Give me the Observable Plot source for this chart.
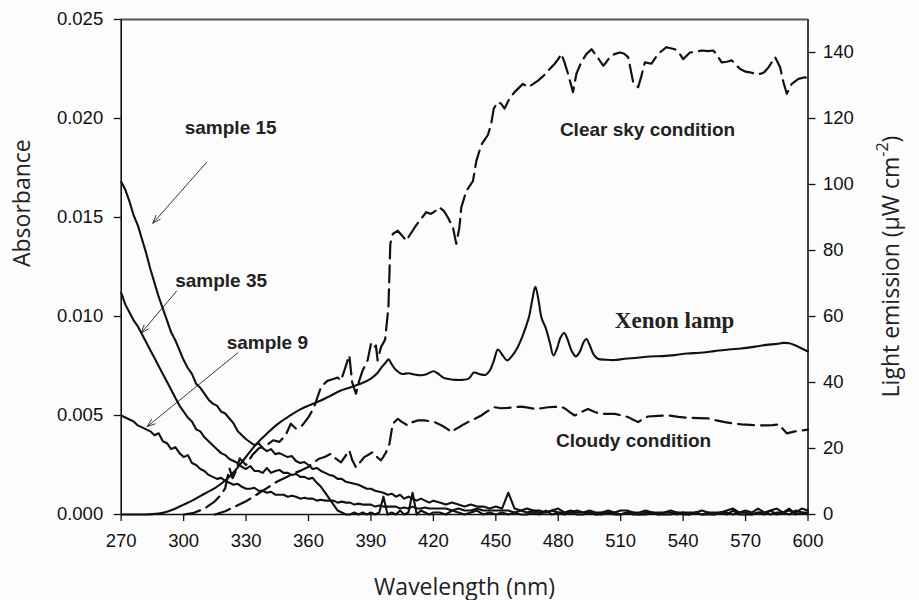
<!DOCTYPE html>
<html><head><meta charset="utf-8">
<script src="https://cdn.jsdelivr.net/npm/d3@7"></script>
<script src="https://cdn.jsdelivr.net/npm/@observablehq/plot@0.6"></script>
<style>
html,body{margin:0;padding:0;background:#fcfcfc;}
#chart svg{display:block;}
</style>
</head><body><div id="chart"></div>
<script>
// ---------- tick labels ----------
const wavelengthTicks = [270, 300, 330, 360, 390, 420, 450, 480, 510, 540, 570, 600];
const absorbanceTicks = [0, 0.005, 0.010, 0.015, 0.020, 0.025];
const emissionTicks = [0, 20, 40, 60, 80, 100, 120, 140];
const absorbanceMax = 0.025;
const emissionMax = 150;

// ---------- absorbance spectra (sampled every 2 nm to 420, then every 3 nm) ----------
const absWl = [...d3.range(270, 421, 2), ...d3.range(423, 601, 3)];
const sample15 = [
  .0168,.0164,.0158,.0151,.0146,.0139,.0132,.0124,.0117,.0110,
  .0104,.0098,.0092,.0088,.0083,.0078,.0074,.0071,.0066,.0064,
  .0061,.0058,.0056,.0055,.0052,.0051,.00485,.0046,.0042,.0040,
  .0038,.00365,.0035,.0036,.00335,.0032,.0033,.00305,.0031,.0030,
  .0029,.00295,.0027,.0026,.00265,.0025,.0023,.00235,.0022,.0021,
  .0020,.00195,.0018,.0018,.00165,.0016,.00155,.0015,.0014,.0013,
  .0013,.0012,.00115,.0011,.0010,.00105,.0009,.0010,.0008,.0009,
  .0008,.0007,.0008,.0007,.0006,.0007,
  .0006,.0005,.0006,.0005,.0004,.0005,.0004,.0004,.0003,.0004,
  .0003,.0011,.0003,.0002,.0003,.0002,.0002,.0001,.0002,.0003,
  .0001,.0002,.0001,.0001,.0002,.0001,.0001,.0002,.0001,.0002,
  .0002,.0001,.0001,.0002,.0001,.0001,.0001,.0002,.0001,.0001,
  .0001,.0001,.0002,.0001,.0001,.0001,.0002,.0003,.0001,.0002,
  .0001,.0003,.0001,.0002,.0003,.0001,.0002,.0001,.0003,.0002
];
const sample35 = [
  .0112,.0106,.0102,.0098,.0095,.0091,.0087,.0083,.0079,.0075,
  .0071,.0067,.0063,.0059,.0055,.0052,.0049,.0047,.0043,.0042,
  .0039,.0037,.0035,.0033,.0031,.0030,.0028,.0027,.0026,.0024,
  .0023,.00245,.0022,.0022,.0021,.00235,.0021,.0022,.00225,.0021,
  .0021,.0020,.00205,.0019,.0019,.0018,.00185,.0016,.0014,.0011,
  .0008,.0005,.0002,.0001,.0000,.0000,.0001,.0000,.0001,.0000,
  .0001,.0000,.0001,.0009,.0000,.0001,.0000,.0002,.0000,.0001,
  .0011,.0000,.0002,.0001,.0000,.0001,
  .0001,.0000,.0002,.0001,.0000,.0001,.0002,.0000,.0001,.0000,
  .0001,.0000,.0001,.0000,.0000,.0001,.0000,.0002,.0000,.0001,
  .0000,.0001,.0000,.0000,.0001,.0000,.0000,.0001,.0000,.0000,
  .0001,.0000,.0000,.0000,.0001,.0000,.0000,.0000,.0001,.0000,
  .0000,.0001,.0000,.0000,.0000,.0001,.0000,.0002,.0000,.0000,
  .0000,.0001,.0000,.0002,.0000,.0001,.0003,.0000,.0001,.0000
];
const sample9 = [
  .0050,.0049,.0048,.0047,.0045,.0044,.0043,.0042,.0040,.0041,
  .0037,.0036,.0033,.0034,.0031,.0029,.0030,.0026,.0025,.0023,
  .0022,.0020,.0019,.0018,.00185,.0017,.0016,.0015,.00155,.0014,
  .0013,.0013,.00135,.0012,.0012,.0011,.00115,.0010,.0010,.0010,
  .0009,.00095,.0009,.0008,.00085,.0008,.0008,.0007,.00075,.0007,
  .0007,.0007,.0006,.00065,.0006,.0006,.0005,.00055,.0005,.0005,
  .0005,.0004,.00045,.0004,.0004,.0004,.0004,.0003,.00035,.0003,
  .0004,.0003,.0003,.00035,.0003,.0003,
  .0003,.0003,.0002,.0003,.0002,.0002,.0003,.0002,.0002,.0002,
  .0002,.0002,.0001,.0002,.0001,.0002,.0001,.0001,.0002,.0001,
  .0001,.0001,.0002,.0001,.0001,.0000,.0001,.0001,.0001,.0000,
  .0001,.0001,.0000,.0001,.0001,.0000,.0001,.0001,.0000,.0001,
  .0000,.0001,.0000,.0001,.0000,.0001,.0001,.0000,.0001,.0001,
  .0000,.0001,.0001,.0000,.0001,.0001,.0000,.0002,.0001,.0001
];

// ---------- light emission spectra (µW cm^-2) ----------
const xenonWl = [270,280,285,290,295,300,305,310,315,320,325,330,335,340,345,350,355,360,365,370,375,380,385,390,393,395,397,398.5,400,402,405,408,411,414,417,420,422,425,428,431,434,437,439.5,442,445,447,449,451,453,455.5,458,460.5,462.5,464.5,466,467.5,469,470.5,472,474,476,477.7,479.5,481,482.8,484.5,486.5,488.5,490.5,492,493.5,495,497,499,503,507,512,518,524,530,536,542,548,555,562,568,574,580,585,588,591,594,597,600];
const xenonE  = [0,0,0.1,0.5,1.5,3,4.5,6.3,8,10.3,13.5,17.5,21.4,24.5,27.3,29.5,31.5,33,34.3,35.8,37.4,38.5,39.6,41.2,42.8,44.5,46,47,45.5,43.8,42.6,42.8,42.4,42.2,42.6,43.4,42.8,41.4,41,40.8,40.8,41.2,43,42.6,42.3,43.5,46.5,50,48.5,46.7,48.2,50.7,53.5,57,60,65,69,65,59.5,56.5,52,48.2,50.5,53.5,55,53,49.5,47.9,49.5,52,53.2,51.5,48.5,47.2,46.9,46.8,47.2,47.5,47.9,48,48.3,48.8,49,49.5,50,50.3,50.8,51.4,51.7,52,51.9,51.2,50.3,49.4];

const clearWl = [300,305,310,315,318,320,322,323.5,325,327,330,333,336,340,343,346,349,351.5,354,357,360,362.7,364,366,369,371.6,374,375.6,377.2,379.6,381,382.8,384.4,386,388.4,390,391.2,392.4,393.2,394.8,396.8,398.4,398.8,399.3,400.5,402.9,405,406.9,409,411.7,414,416.5,418.9,421,422.9,425,427,429.4,431,432.5,433.4,435.8,439,440.6,443,446.2,447.8,449,451,452.5,454.2,456.5,459,463,465.5,468,470.3,473,475.9,478.3,480,481.5,483,484.7,487.1,488.7,491,493.5,496,498.4,501.6,503,504.8,507,509.6,511.5,513.6,516,518.4,520,521.6,524.8,528,532,536,538,540,543.3,546,548.9,552,554.5,556,558.5,561,563.4,565,567.4,570,572,575,577,579,581,584.2,586.6,588.2,589.8,592.2,595.4,598.6,600];
const clearE  = [0,0.5,1.8,4,6,8,14,11,13,17,15,18,20,21,22.5,22,24,27.5,26,27,29.5,32.5,35,38.6,40.5,41,41.5,40.6,43.6,48.2,40,36.6,40.6,43.6,46.7,51.7,50.5,51.2,46.7,50.7,53,62.8,71,82,85,86,84.5,83,85,87.6,89.5,91.6,91.1,92,93.1,92,90,87,82,87,93,98,101,107,112,115,118.4,123,125,124.5,123,126,128,130.5,129.5,130.5,131.5,133,135,136.6,138,139.6,137,133.5,128,133.5,137,139.5,141,139,136,137,138.6,139.5,140,139.7,138.6,131,129.5,133,137,136.6,139.6,141.6,141,140,138,140,140.2,140.6,140.4,140.6,139.5,137,137.2,137.6,136.5,135,134.2,134,133.5,133.5,134,135.5,138.6,135.5,131,127.5,130.5,132,132.5,132];

const cloudyWl = [315,320,325,330,335,340,345,350,353,356.3,359.6,362,365.1,368,370.8,373,375.6,377.5,379.6,381,382.8,385,386.8,389,390.8,392.8,394.8,396,397.3,398.9,399.8,400.5,402.9,405,407.7,410,412.5,415.7,418,420.5,423,425.3,427,428.5,430.5,432.5,434.5,436.6,440,443,446,449.4,452.5,455.8,459,462.3,465.5,468.7,472,475.1,478.3,481.5,483.5,485.5,487.9,491,494.3,497,499.9,503.5,507.2,510.5,513.6,516,518.4,520.8,523.2,528,532.9,537.7,542.5,547.3,552.1,556,560.1,564,568.2,574,579.4,583,585.8,587.8,589.8,591.8,593.8,597.5,600];
const cloudyE  = [0,1,2.5,4,6,8,10,11.5,12.5,13.3,14.3,15.5,16.9,17.5,18.4,17,15.8,17.5,19.4,16.5,14.3,16,17.4,18.2,18.9,17.5,16.4,17.5,18.9,21.4,25,27.5,29,28,27,28,28.5,28.5,28.3,28,27.3,26.5,25.8,25,25.8,26.5,27.3,28,29,30,31.3,32.5,32.2,32.3,32.5,32.7,32.4,32,32.2,32.5,32.6,32.7,32,31,30,31,32,31.2,30.5,30.5,30.5,30,29.5,28.7,28,29,29.7,29.9,30,29.6,29.3,29.2,29.1,28.5,28,27.6,27.3,27.1,27,27.1,27.3,26,24.6,24.9,25.2,25.5,25.7];

// ---------- annotations (data coordinates) ----------
const sampleLabels = [
  {w: 322.6, a: 0.01952, text: "sample 15"},
  {w: 318.0, a: 0.01182, text: "sample 35"},
  {w: 340.2, a: 0.00866, text: "sample 9"}
];
const sampleArrows = [
  {w1: 311.1, a1: 0.01779, w2: 285.2, a2: 0.01471},
  {w1: 296.6, a1: 0.01128, w2: 279.6, a2: 0.00916},
  {w1: 326.1, a1: 0.00817, w2: 282.5, a2: 0.00444}
];
const conditionLabels = [
  {w: 522.9, a: 0.01942, text: "Clear sky condition"},
  {w: 516.2, a: 0.00374, text: "Cloudy condition"}
];
const lampLabels = [{w: 535.9, a: 0.00980, text: "Xenon lamp"}];

// right-axis values expressed on the left (absorbance) scale
const k = absorbanceMax / emissionMax;
const toLeft = arr => arr.map(e => e * k);

const ink = "#111";
const sans = "'Liberation Sans', Arial, sans-serif";

const chart = Plot.plot({
  width: 919,
  height: 600,
  marginLeft: 120.7,
  marginRight: 111.5,
  marginTop: 19,
  marginBottom: 86,
  style: {fontFamily: sans, fontSize: "18.5px", color: ink, background: "transparent", overflow: "visible"},
  x: {domain: [270, 600]},
  y: {domain: [0, absorbanceMax]},
  marks: [
    Plot.axisX({ticks: wavelengthTicks, tickFormat: d => String(d), tickSize: 7, tickPadding: 12, label: null, stroke: ink, strokeWidth: 1.3}),
    Plot.axisY({ticks: absorbanceTicks, tickFormat: d3.format(".3f"), tickSize: 7, tickPadding: 11, label: null, stroke: ink, strokeWidth: 1.3}),
    Plot.axisY(emissionTicks.map(e => e * k), {anchor: "right", tickFormat: d => String(Math.round(d / k)), tickSize: 7, tickPadding: 8, label: null, stroke: ink, strokeWidth: 1.3}),
    Plot.ruleY([absorbanceMax], {stroke: "#555", strokeWidth: 1.8}),
    Plot.ruleY([0], {stroke: ink, strokeWidth: 1.6}),
    Plot.ruleX([270], {stroke: ink, strokeWidth: 1.6}),
    Plot.ruleX([600], {stroke: ink, strokeWidth: 1.6}),

    Plot.line(sample15, {x: absWl, y: sample15, stroke: ink, strokeWidth: 2.1}),
    Plot.line(sample35, {x: absWl, y: sample35, stroke: ink, strokeWidth: 2.1}),
    Plot.line(sample9,  {x: absWl, y: sample9,  stroke: ink, strokeWidth: 2.1}),
    Plot.line(xenonE,  {x: xenonWl,  y: toLeft(xenonE),  stroke: ink, strokeWidth: 2.1, curve: "catmull-rom"}),
    Plot.line(clearE,  {x: clearWl,  y: toLeft(clearE),  stroke: ink, strokeWidth: 2.2, strokeDasharray: "17,7"}),
    Plot.line(cloudyE, {x: cloudyWl, y: toLeft(cloudyE), stroke: ink, strokeWidth: 2.2, strokeDasharray: "16,7"}),

    Plot.arrow(sampleArrows, {x1: "w1", y1: "a1", x2: "w2", y2: "a2", stroke: "#222", strokeWidth: 0.9, headLength: 14, headAngle: 40}),
    Plot.text(sampleLabels, {x: "w", y: "a", text: "text", fontWeight: "bold", fontSize: 19, fontFamily: sans, fill: "#222"}),
    Plot.text(conditionLabels, {x: "w", y: "a", text: "text", fontWeight: "bold", fontSize: 19, fontFamily: sans, fill: "#222"}),
    Plot.text(lampLabels, {x: "w", y: "a", text: "text", fontWeight: "bold", fontSize: 23, fontFamily: "'Liberation Serif', 'Times New Roman', serif", fill: "#222"}),

    Plot.text(["Wavelength (nm)"], {frameAnchor: "bottom", dy: 80, fontSize: 23, fontFamily: "'Open Sans', sans-serif", fill: "#222"}),
    Plot.text(["Absorbance"], {frameAnchor: "left", dx: -98.7, rotate: -90, fontSize: 23, fontFamily: "'Open Sans', sans-serif", fill: "#222"})
  ]
});

// right axis title with superscript
const svg = d3.select(chart);
const t = svg.append("text")
  .attr("transform", "translate(893,266.5) rotate(-90)")
  .attr("text-anchor", "middle")
  .attr("dominant-baseline", "middle")
  .attr("font-family", "'Open Sans', sans-serif")
  .attr("font-size", 23)
  .attr("fill", "#222");
t.append("tspan").text("Light emission (μW cm");
t.append("tspan").attr("dy", -9).attr("font-size", 16).text("-2");
t.append("tspan").attr("dy", 9).text(")");

document.getElementById("chart").appendChild(chart);
</script>
</body></html>
